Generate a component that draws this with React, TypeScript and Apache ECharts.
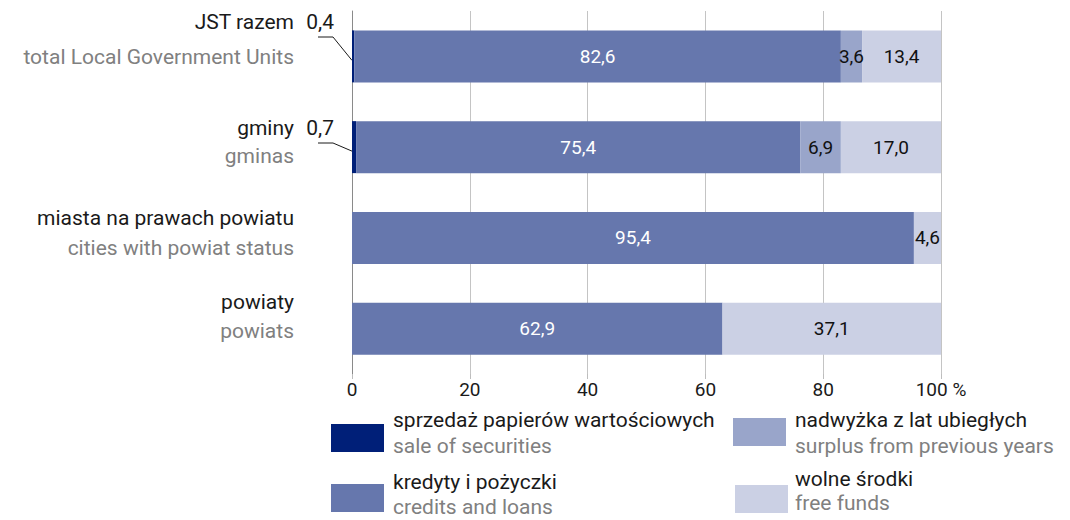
import React, { useEffect, useRef } from "react";
import * as echarts from "echarts";

const categoriesPl = ["JST razem", "gminy", "miasta na prawach powiatu", "powiaty"];
const categoriesEn = ["total Local Government Units", "gminas", "cities with powiat status", "powiats"];
const saleOfSecurities = [0.4, 0.7, null, null];
const creditsAndLoans = [82.6, 75.4, 95.4, 62.9];
const surplusPrevYears = [3.6, 6.9, null, null];
const freeFunds = [13.4, 17.0, 4.6, 37.1];
const xTicks = [0, 20, 40, 60, 80, 100];

const seriesNamesPl = ["sprzedaż papierów wartościowych", "kredyty i pożyczki", "nadwyżka z lat ubiegłych", "wolne środki"];
const seriesNamesEn = ["sale of securities", "credits and loans", "surplus from previous years", "free funds"];
const colors = ["#001f78", "#6677ad", "#99a5ca", "#cbd0e4"];

const FONT = "Roboto";
const fmt = (v: number) => v.toFixed(1).replace(".", ",");

export default function App() {
  const ref = useRef<HTMLDivElement>(null);
  useEffect(() => {
    if (!ref.current) return;
    const chart = echarts.init(ref.current, undefined, { renderer: "svg" });
    const lbl = (color: string) => ({
      show: true,
      position: "inside" as const,
      color,
      fontFamily: FONT,
      fontSize: 19,
      formatter: (p: any) => (p.value == null || p.value === 0 ? "" : fmt(p.value)),
    });
    const txt = (x: number, y: number, text: string, fill: string, align: string = "left") => ({
      type: "text",
      x,
      y,
      style: { text, fill, font: `21px '${FONT}'`, align, verticalAlign: "middle", lineHeight: 21 },
    });
    const catY = [22, 128, 218, 302];
    const enY = [57, 156, 248, 331];
    const graphics: any[] = [];
    categoriesPl.forEach((c, i) => {
      graphics.push(txt(294, catY[i], c, "#1a1a1a", "right"));
      graphics.push(txt(294, enY[i], categoriesEn[i], "#808080", "right"));
    });
    // legend
    const lg = [
      { sx: 331, sy: 424, tx: 393, ty1: 420, ty2: 446, i: 0 },
      { sx: 331, sy: 484, tx: 393, ty1: 482, ty2: 507, i: 1 },
      { sx: 733, sy: 418, tx: 795, ty1: 420, ty2: 446, i: 2 },
      { sx: 735, sy: 485, tx: 795, ty1: 479, ty2: 503, i: 3 },
    ];
    lg.forEach((l) => {
      graphics.push({ type: "rect", shape: { x: l.sx, y: l.sy, width: 53, height: 28 }, style: { fill: colors[l.i] } });
      graphics.push(txt(l.tx, l.ty1, seriesNamesPl[l.i], "#1a1a1a"));
      graphics.push(txt(l.tx, l.ty2, seriesNamesEn[l.i], "#808080"));
    });
    const mk = (name: string, data: any[], color: string, labelColor: string) => ({
      name,
      type: "bar",
      stack: "total",
      data,
      barWidth: 52,
      itemStyle: { color },
      label: lbl(labelColor),
      emphasis: { disabled: true },
    });
    const option: any = {
      animation: false,
      grid: { left: 352, right: 129, top: 11, bottom: 146 },
      xAxis: {
        type: "value",
        min: xTicks[0],
        max: xTicks[xTicks.length - 1],
        interval: 20,
        axisLine: { show: false },
        axisTick: { show: true, length: 5, lineStyle: { color: "#bdbdbd" } },
        splitLine: { show: true, lineStyle: { color: "#c4c4c4", width: 1 } },
        axisLabel: {
          color: "#1a1a1a",
          fontFamily: FONT,
          fontSize: 19,
          margin: 6,
          formatter: (v: number) => (v === 100 ? "100 %" : String(v)),
        },
      },
      yAxis: {
        type: "category",
        inverse: true,
        data: categoriesPl,
        axisLine: { show: true, lineStyle: { color: "#8a8a8a", width: 1 } },
        axisTick: { show: false },
        axisLabel: { show: false },
      },
      series: [
        { ...mk(seriesNamesPl[0], saleOfSecurities, colors[0], "#000"), label: { show: false } },
        mk(seriesNamesPl[1], creditsAndLoans, colors[1], "#ffffff"),
        mk(seriesNamesPl[2], surplusPrevYears, colors[2], "#111"),
        mk(seriesNamesPl[3], freeFunds, colors[3], "#111"),
      ],
      graphic: graphics,
    };
    chart.setOption(option);
    // leader annotations for small "sale of securities" values
    const ann: any[] = [];
    saleOfSecurities.forEach((v, i) => {
      if (v == null) return;
      const p = chart.convertToPixel({ gridIndex: 0 }, [0, i]) as number[];
      const ty = catY[i];
      ann.push(txt(334, ty, fmt(v), "#1a1a1a", "right"));
      ann.push({
        type: "polyline",
        shape: { points: [[318, ty + 15], [333, ty + 15], [p[0], p[1] + 4]] },
        style: { stroke: "#1a1a1a", lineWidth: 1, fill: "none" },
      });
    });
    chart.setOption({ graphic: [...graphics, ...ann] });
    return () => chart.dispose();
  }, []);
  return <div ref={ref} style={{ width: 1070, height: 520, position: "absolute", left: 0, top: 0 }} />;
}
